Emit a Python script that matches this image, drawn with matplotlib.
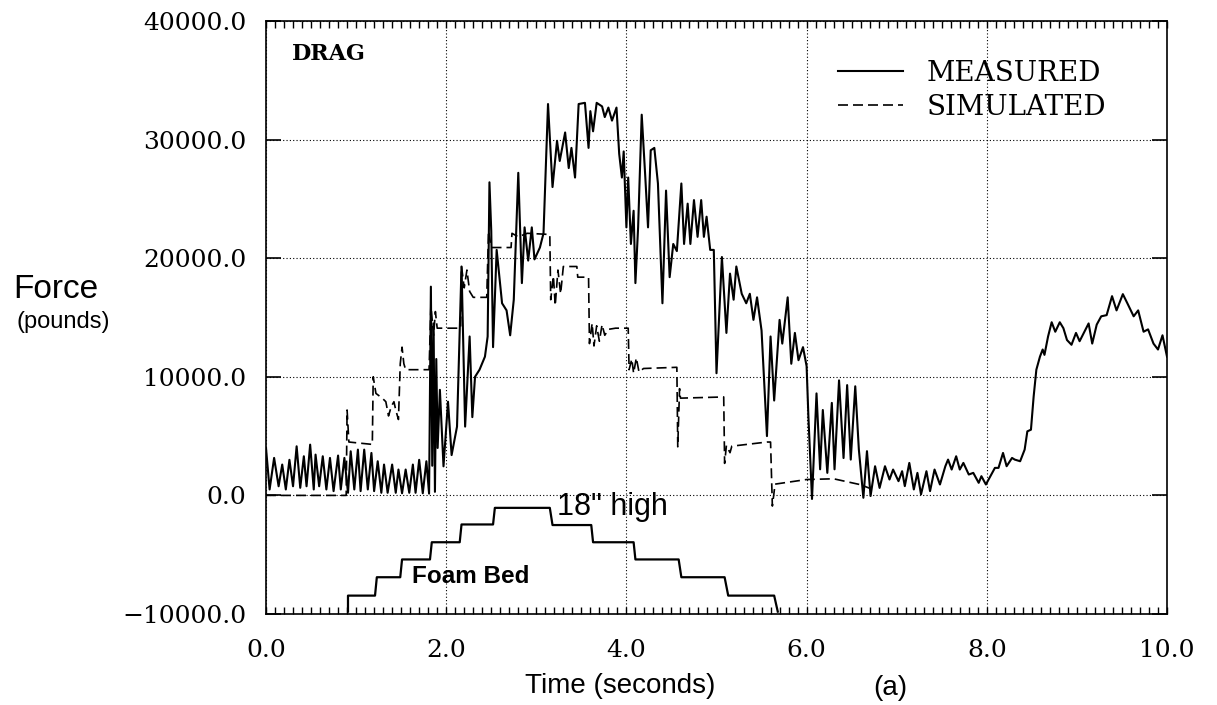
import numpy as np
import matplotlib.pyplot as plt
from matplotlib.ticker import MultipleLocator

# measured drag force (time in s, force in lb)
meas_t = [0.00, 0.04, 0.09, 0.14, 0.18, 0.22, 0.26, 0.30, 0.34, 0.38, 0.42, 0.45,
          0.49, 0.53, 0.55, 0.59, 0.63, 0.67, 0.71, 0.75, 0.80, 0.83, 0.87, 0.91,
          0.94, 0.98, 1.02, 1.05, 1.09, 1.13, 1.17, 1.20, 1.24, 1.28, 1.31, 1.35,
          1.40, 1.44, 1.47, 1.51, 1.55, 1.59, 1.63, 1.66, 1.70, 1.74, 1.78, 1.81,
          1.83, 1.845, 1.86, 1.875, 1.89, 1.905, 1.93, 1.97, 2.02, 2.06, 2.12, 2.17,
          2.21, 2.26, 2.29, 2.32, 2.37, 2.43, 2.46, 2.48, 2.50, 2.52, 2.56, 2.62,
          2.67, 2.71, 2.75, 2.80, 2.84, 2.87, 2.91, 2.95, 2.98, 3.04, 3.08, 3.13,
          3.18, 3.23, 3.26, 3.32, 3.36, 3.39, 3.43, 3.47, 3.54, 3.58, 3.60, 3.63,
          3.67, 3.73, 3.76, 3.80, 3.84, 3.89, 3.92, 3.95, 3.97, 4.00, 4.02, 4.05,
          4.08, 4.10, 4.13, 4.17, 4.21, 4.24, 4.27, 4.31, 4.35, 4.40, 4.44, 4.48,
          4.52, 4.56, 4.61, 4.64, 4.68, 4.71, 4.75, 4.79, 4.83, 4.86, 4.89, 4.93,
          4.97, 5.00, 5.06, 5.11, 5.15, 5.19, 5.22, 5.28, 5.33, 5.37, 5.41, 5.45,
          5.50, 5.56, 5.60, 5.64, 5.70, 5.73, 5.79, 5.83, 5.87, 5.91, 5.96, 6.00,
          6.02, 6.06, 6.11, 6.15, 6.18, 6.23, 6.28, 6.31, 6.36, 6.41, 6.45, 6.49,
          6.54, 6.58, 6.63, 6.67, 6.71, 6.76, 6.81, 6.87, 6.92, 6.96, 7.02, 7.06,
          7.09, 7.14, 7.19, 7.23, 7.27, 7.33, 7.37, 7.42, 7.48, 7.54, 7.57, 7.61,
          7.66, 7.70, 7.74, 7.80, 7.85, 7.91, 7.94, 7.99, 8.04, 8.09, 8.13, 8.18,
          8.22, 8.28, 8.31, 8.37, 8.42, 8.45, 8.49, 8.52, 8.55, 8.59, 8.62, 8.64,
          8.68, 8.72, 8.76, 8.81, 8.85, 8.89, 8.94, 8.99, 9.03, 9.09, 9.13, 9.17,
          9.22, 9.27, 9.33, 9.39, 9.44, 9.51, 9.56, 9.63, 9.68, 9.74, 9.79, 9.85,
          9.90, 9.95, 10.00]
meas_f = [4000, 500, 3160, 770, 2600, 500, 3000, 770, 4140, 640, 3300, 770,
          4280, 500, 3440, 770, 3300, 500, 3160, 360, 3360, 500, 3160, 220,
          3720, 500, 3860, 360, 3860, 500, 3580, 360, 2880, 220, 2600, 220,
          2600, 220, 2180, 180, 2180, 220, 2600, 220, 3000, 180, 2880, 150,
          17600, 2500, 14500, 300, 11500, 4000, 8900, 2450, 7900, 3400, 5800, 19300,
          5800, 13400, 6600, 10000, 10600, 11700, 13400, 26400, 22300, 12500, 20700, 16200,
          15600, 13500, 16500, 27200, 17900, 22600, 19800, 22600, 19900, 20900, 22100, 33000,
          26000, 29900, 28200, 30600, 27600, 29300, 26800, 33000, 33100, 29300, 32400, 30700,
          33100, 32800, 31900, 32700, 31600, 32700, 28800, 26800, 29000, 22600, 26800, 21200,
          24000, 17900, 22600, 32100, 26800, 22600, 29100, 29300, 26300, 16200, 25700, 18400,
          21200, 20600, 26300, 21200, 24600, 21200, 24900, 21800, 24900, 21800, 23500, 20700,
          20700, 10300, 20100, 13700, 18700, 16500, 19300, 17000, 16200, 17000, 14800, 16700,
          13900, 5000, 13400, 8000, 14800, 12800, 16700, 11100, 13700, 11400, 12500, 10900,
          6650, -300, 8600, 2200, 7200, 1900, 7800, 2200, 9700, 3150, 9300, 3020,
          9200, 3860, -200, 3730, -50, 2460, 630, 2460, 1340, 2180, 1200, 2040,
          780, 2740, 500, 1900, 80, 2040, 360, 2180, 920, 2460, 3020, 2180,
          3300, 2180, 2740, 1760, 1900, 1060, 1620, 920, 1620, 2320, 2320, 3580,
          2460, 3160, 3020, 2880, 3860, 5400, 5540, 8340, 10600, 11700, 12300, 11850,
          13400, 14600, 13800, 14600, 14100, 13100, 12700, 13700, 13000, 13900, 14500, 12800,
          14400, 15100, 15200, 16800, 15600, 16970, 16200, 15100, 15600, 13800, 14000, 12800,
          12300, 13500, 11700]

# simulated drag force
sim_t = [0.00, 0.89, 0.90, 0.92, 1.18, 1.19, 1.22, 1.29, 1.33, 1.36, 1.39, 1.42,
         1.44, 1.47, 1.49, 1.51, 1.53, 1.55, 1.81, 1.83, 1.86, 1.88, 1.90, 2.16,
         2.17, 2.20, 2.23, 2.26, 2.30, 2.45, 2.47, 2.50, 2.58, 2.72, 2.73, 2.80,
         2.90, 3.15, 3.16, 3.19, 3.21, 3.24, 3.27, 3.30, 3.45, 3.46, 3.58, 3.59,
         3.62, 3.64, 3.67, 3.70, 3.73, 3.76, 3.80, 3.88, 4.02, 4.03, 4.06, 4.08,
         4.11, 4.14, 4.19, 4.56, 4.57, 4.59, 4.60, 5.08, 5.09, 5.11, 5.15, 5.17,
         5.56, 5.60, 5.62, 5.65, 6.00, 6.30, 6.60, 6.70]
sim_f = [0, 0, 7200, 4500, 4300, 10000, 8600, 8200, 7900, 6700, 7500, 7900,
         7200, 6400, 11100, 12500, 11100, 10600, 10600, 16000, 13500, 15500, 14100, 14100,
         19300, 17500, 19000, 17200, 16700, 16700, 22300, 20900, 20900, 20900, 22100, 21800,
         22100, 22000, 16500, 18500, 16000, 19000, 17000, 19300, 19300, 18400, 18400, 12800,
         14500, 12600, 14300, 13000, 14400, 13500, 14000, 14100, 14100, 10600, 11500, 10300,
         11600, 10400, 10700, 10800, 4100, 9000, 8200, 8300, 2700, 4200, 3600, 4150,
         4500, 4500, -900, 950, 1340, 1400, 900, 600]

# foam bed outline (schematic)
bed_t = [0.91, 0.91, 1.21, 1.23, 1.49, 1.51, 1.82, 1.84, 2.15, 2.17, 2.52, 2.54,
         3.15, 3.18, 3.61, 3.63, 4.08, 4.10, 4.58, 4.61, 5.09, 5.13, 5.64, 5.68]
bed_y = [-9800, -8450, -8450, -6900, -6900, -5400, -5400, -3950, -3950, -2450, -2450, -1050,
         -1050, -2500, -2500, -3950, -3950, -5400, -5400, -6900, -6900, -8450, -8450, -9800]

x_ticks = [0, 2, 4, 6, 8, 10]
x_labels = ['0.0', '2.0', '4.0', '6.0', '8.0', '10.0']
y_ticks = [-10000, 0, 10000, 20000, 30000, 40000]
y_labels = ['\u221210000.0', '0.0', '10000.0', '20000.0', '30000.0', '40000.0']

plt.rcParams['font.family'] = 'DejaVu Serif'

fig = plt.figure(figsize=(12.17, 7.05), dpi=100)
ax = fig.add_axes([266 / 1217, 1 - 614 / 705, 901 / 1217, 593 / 705])

ax.plot(meas_t, meas_f, color='black', lw=1.5, label='MEASURED')
ax.plot(sim_t, sim_f, color='black', lw=1.2, dashes=(6, 3), label='SIMULATED')
ax.plot(bed_t, bed_y, color='black', lw=1.6)

ax.set_xlim(0, 10)
ax.set_ylim(-10000, 40000)
ax.set_xticks(x_ticks)
ax.set_xticklabels(x_labels)
ax.set_yticks(y_ticks)
ax.set_yticklabels(y_labels)
ax.xaxis.set_minor_locator(MultipleLocator(0.1))
ax.tick_params(axis='x', which='both', direction='in', top=True, bottom=True,
               length=5, width=1, labelsize=18, pad=18)
ax.tick_params(axis='y', which='major', direction='in', left=True, right=True,
               length=11, width=1.2, labelsize=18, pad=14)
ax.grid(True, which='major', color='black', lw=0.8, ls=(0, (1, 2)))
for s in ax.spines.values():
    s.set_linewidth(1.2)

ax.text(0.029, 0.944, 'DRAG', transform=ax.transAxes, fontsize=16,
        fontweight='bold', va='center', ha='left')
ax.text(3.23, -1000, '18" high', fontsize=22, family='Liberation Sans',
        va='center', ha='left')
ax.text(1.62, -6800, 'Foam Bed', fontsize=17.5, family='Liberation Sans',
        fontweight='bold', va='center', ha='left')

ax.legend(loc='upper left', bbox_to_anchor=(0.635, 0.935), frameon=False,
          fontsize=20, handlelength=2.34, handletextpad=0.86, labelspacing=0.26,
          borderpad=0, borderaxespad=0)

fig.text(13 / 1217, 1 - 290 / 705, 'Force', fontsize=24,
         family='Liberation Sans', va='center', ha='left')
fig.text(16 / 1217, 1 - 322 / 705, '(pounds)', fontsize=17,
         family='Liberation Sans', va='center', ha='left')
fig.text(620 / 1217, 1 - 686 / 705, 'Time (seconds)', fontsize=20,
         family='Liberation Sans', va='center', ha='center')
fig.text(890 / 1217, 1 - 688 / 705, '(a)', fontsize=20,
         family='Liberation Sans', va='center', ha='center')

fig.savefig('out.png', dpi=100)
